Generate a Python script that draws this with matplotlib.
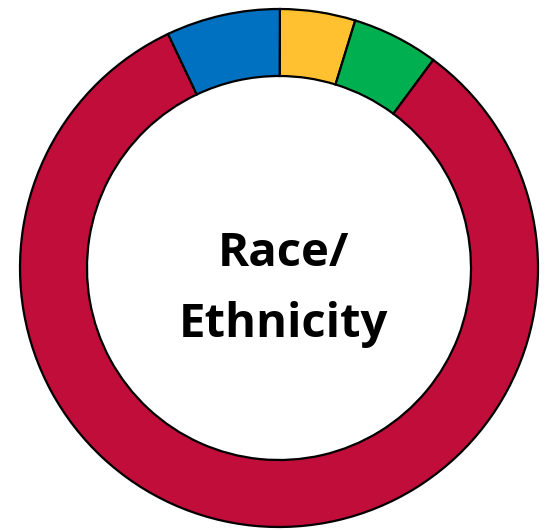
import matplotlib.pyplot as plt

# slices clockwise from the top
groups = ["Group A", "Group B", "Majority", "Group C"]
shares = [4.7, 5.4, 82.8, 7.1]
colours = ["#FFC130", "#00B050", "#C00D3A", "#0070C0"]

fig = plt.figure(figsize=(5.45, 5.30), dpi=100)
ax = fig.add_axes([0, 0, 1, 1])

ax.pie(shares, colors=colours, startangle=89.8, counterclock=False,
       center=(279, 262), radius=259,
       wedgeprops=dict(width=67, edgecolor="black", linewidth=1.6))

ax.set_xlim(0, 545)
ax.set_ylim(0, 530)
ax.set_aspect("equal")
ax.axis("off")

ax.text(283, 530 - 266, "Race/", ha="center", va="baseline",
        fontsize=34, fontweight="bold", family="Open Sans")
ax.text(283, 530 - 337, "Ethnicity", ha="center", va="baseline",
        fontsize=34, fontweight="bold", family="Open Sans")

fig.savefig("out.png", dpi=100)
